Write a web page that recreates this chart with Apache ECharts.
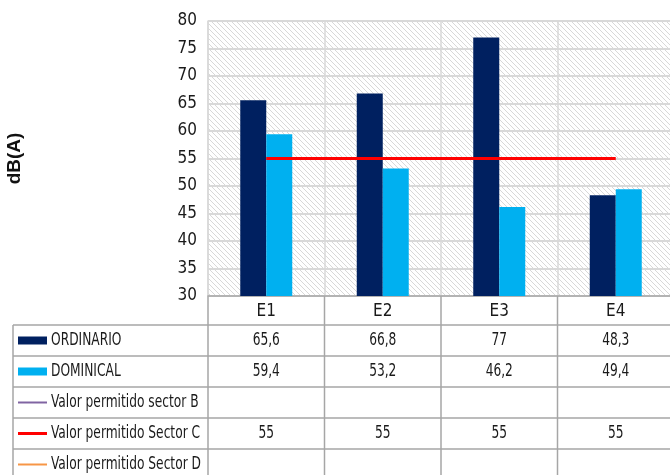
<!DOCTYPE html>
<html>
<head>
<meta charset="utf-8">
<script src="https://cdnjs.cloudflare.com/ajax/libs/echarts/6.0.0/echarts.min.js"></script>
<style>
  html, body { margin: 0; padding: 0; background: #fff; }
  #chart { width: 670px; height: 475px; }
</style>
</head>
<body>
<div id="chart"></div>
<script>
// data
var categories = ['E1', 'E2', 'E3', 'E4'];
var ordinario = [65.6, 66.8, 77, 48.3];
var dominical = [59.4, 53.2, 46.2, 49.4];
var sectorB = [null, null, null, null];
var sectorC = [55, 55, 55, 55];
var sectorD = [null, null, null, null];
var yTicks = { min: 30, max: 80, interval: 5 };

var FONT = '"Liberation Sans Narrow", "DejaVu Sans Condensed", "Liberation Sans", sans-serif';
var TXT = '#1a1a1a';
var LINE = '#a6a6a6';
var SQUEEZE = 0.8; // table text in the original is narrow

var rows = [
  { name: 'ORDINARIO', data: ordinario, color: '#002060', key: 'bar' },
  { name: 'DOMINICAL', data: dominical, color: '#00b0f0', key: 'bar' },
  { name: 'Valor permitido sector B', data: sectorB, color: '#8064a2', key: 'line', w: 2 },
  { name: 'Valor permitido Sector C', data: sectorC, color: '#ff0000', key: 'line', w: 3 },
  { name: 'Valor permitido Sector D', data: sectorD, color: '#f79646', key: 'line', w: 2 }
];

// hatch fill for plot area
function hatch() {
  var n = 5;
  var c = document.createElement('canvas');
  c.width = n; c.height = n;
  var g = c.getContext('2d');
  g.fillStyle = '#ffffff';
  g.fillRect(0, 0, n, n);
  g.strokeStyle = '#d8d8d8';
  g.lineWidth = 1;
  g.beginPath();
  g.moveTo(-1, -1); g.lineTo(n + 1, n + 1);
  g.moveTo(-1, n - 1); g.lineTo(1, n + 1);
  g.moveTo(n - 1, -1); g.lineTo(n + 1, 1);
  g.stroke();
  return { image: c, repeat: 'repeat' };
}

// plot runs a little past the right edge of the picture in the original
var GRID = { left: 208, top: 21, width: 466, bottom: 179, outerBoundsMode: 'none', containLabel: false };
var chart = echarts.init(document.getElementById('chart'), null, { renderer: 'canvas' });

var series = rows.map(function (r) {
  if (r.key === 'bar') {
    return {
      type: 'bar', name: r.name, data: r.data,
      barWidth: 26, barGap: '0%',
      itemStyle: { color: r.color },
      silent: true
    };
  }
  return {
    type: 'line', name: r.name, data: r.data,
    showSymbol: false, symbol: 'none',
    lineStyle: { color: r.color, width: r.w },
    itemStyle: { color: r.color },
    z: 5, silent: true
  };
});

chart.setOption({
  backgroundColor: '#ffffff',
  animation: false,
  textStyle: { fontFamily: FONT },
  grid: Object.assign({ show: true, backgroundColor: hatch(), borderWidth: 0 }, GRID),
  xAxis: {
    type: 'category',
    data: categories,
    boundaryGap: true,
    axisLine: { show: true, lineStyle: { color: LINE, width: 1.5 } },
    axisTick: { show: false },
    axisLabel: { color: TXT, fontSize: 17, fontFamily: FONT, margin: 7 },
    splitLine: { show: true, lineStyle: { color: '#d9d9d9', width: 1.5 } }
  },
  yAxis: {
    type: 'value',
    min: yTicks.min, max: yTicks.max, interval: yTicks.interval,
    name: 'dB(A)',
    nameLocation: 'middle',
    nameRotate: 90,
    nameGap: 184,
    nameTextStyle: { color: '#111', fontSize: 19, fontWeight: 'bold', fontFamily: '"Liberation Sans", Arial, sans-serif' },
    axisLine: { show: true, lineStyle: { color: '#d9d9d9', width: 1.5 } },
    axisTick: { show: false },
    axisLabel: { color: TXT, fontSize: 17, fontFamily: FONT, margin: 11 },
    splitLine: { show: true, lineStyle: { color: '#d9d9d9', width: 2 } }
  },
  series: series
});

// data table under the plot, built from the same arrays
function buildTable() {
  var els = [];
  var x0 = 13;
  var left = GRID.left;
  var right = 670;
  var axisY = 475 - GRID.bottom;
  var headerH = 29;
  var rowH = 31;
  var half = (chart.convertToPixel({ xAxisIndex: 0 }, categories[1]) -
              chart.convertToPixel({ xAxisIndex: 0 }, categories[0])) / 2;
  var bottom = 480;

  // vertical lines at column edges
  var edges = [left];
  categories.forEach(function (c) {
    edges.push(chart.convertToPixel({ xAxisIndex: 0 }, c) + half);
  });
  edges.forEach(function (x) {
    els.push({ type: 'line', shape: { x1: x, y1: axisY, x2: x, y2: bottom },
      style: { stroke: LINE, lineWidth: 1.5 }, silent: true });
  });
  els.push({ type: 'line', shape: { x1: x0, y1: axisY + headerH, x2: x0, y2: bottom },
    style: { stroke: LINE, lineWidth: 1.5 }, silent: true });

  rows.forEach(function (r, i) {
    var top = axisY + headerH + i * rowH;
    var cy = top + rowH / 2;
    els.push({ type: 'line', shape: { x1: x0, y1: top, x2: right, y2: top },
      style: { stroke: LINE, lineWidth: 1.5 }, silent: true });
    if (r.key === 'bar') {
      els.push({ type: 'rect', shape: { x: 18, y: cy - 4, width: 29, height: 8 },
        style: { fill: r.color }, silent: true });
    } else {
      els.push({ type: 'line', shape: { x1: 18, y1: cy, x2: 47, y2: cy },
        style: { stroke: r.color, lineWidth: r.w }, silent: true });
    }
    els.push({ type: 'text', x: 51, y: cy, scaleX: SQUEEZE,
      style: { text: r.name, fill: TXT, font: '17px ' + FONT, verticalAlign: 'middle' },
      silent: true });
    r.data.forEach(function (v, j) {
      if (v == null) return;
      els.push({ type: 'text', x: chart.convertToPixel({ xAxisIndex: 0 }, categories[j]), y: cy,
        scaleX: SQUEEZE,
        style: { text: String(v).replace('.', ','), fill: TXT, font: '17px ' + FONT,
          align: 'center', verticalAlign: 'middle' },
        silent: true });
    });
  });
  chart.setOption({ graphic: els });
}
buildTable();
</script>
</body>
</html>
